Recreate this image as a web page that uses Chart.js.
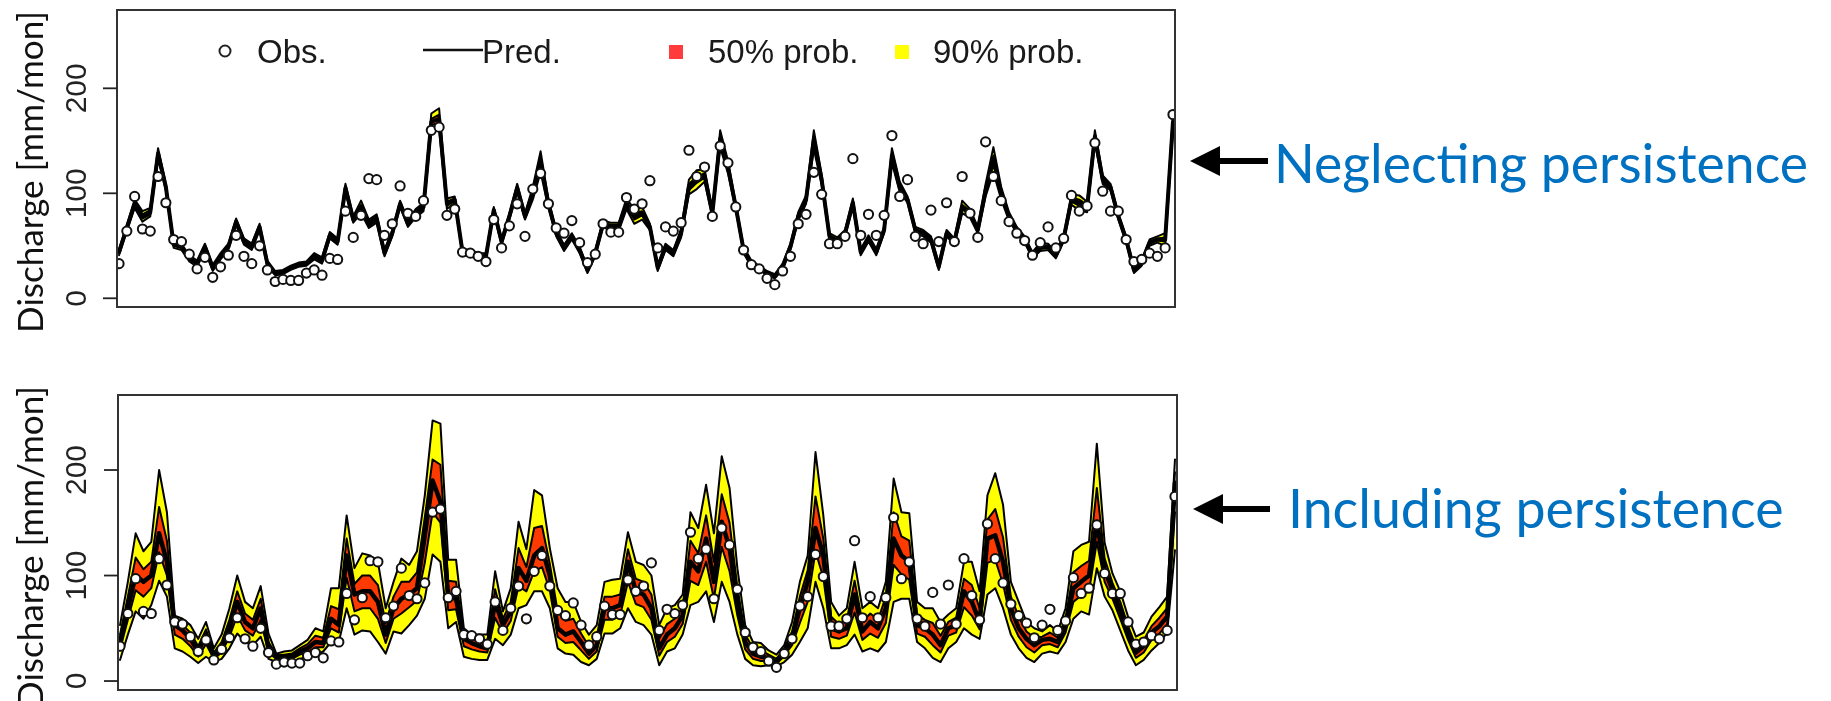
<!DOCTYPE html>
<html><head><meta charset="utf-8">
<script src="https://cdn.jsdelivr.net/npm/chart.js@4.4.1/dist/chart.umd.min.js"></script>
<style>
html,body{margin:0;padding:0;background:#fff;width:1831px;height:701px;overflow:hidden;}
canvas{position:absolute;left:0;}
#c1{top:0}
#c2{top:350px}
</style></head><body>
<canvas id="c1" width="1831" height="350"></canvas>
<canvas id="c2" width="1831" height="351"></canvas>
<script>
// ---------- data ----------
const obs = [33,64,97,66,64,116,91,56,54,42, 28,39,20,30,41,60,40,33,50,27,
  16,18,17,17,24,27,22,38,37,83, 58,79,114,113,60,71,107,81,78,93,
  160,163,79,85,44,43,40,35,75,48, 69,90,59,104,119,90,67,62,74,53,
  34,42,71,63,63,96,85,90,112,48, 68,64,72,141,116,125,78,145,129,87,
  46,32,28,19,13,26,40,71,80,120, 99,52,52,59,133,60,80,60,79,155,
  97,113,59,52,84,54,91,54,116,81, 58,149,116,93,73,62,55,41,53,68,
  48,57,98,83,88,148,102,83,83,56, 35,37,43,40,48,175];

// top panel: neglecting persistence
const topPred = [44,67,90,78,82,138,106,51,49,38, 33,49,29,40,49,73,54,49,68,33,
  24,25,29,32,33,40,36,60,54,105, 75,87,71,76,43,62,90,71,81,87,
  168,171,90,94,44,43,40,40,84,54, 78,105,78,100,130,90,62,48,59,46,
  27,43,71,68,68,90,78,81,68,29, 49,43,62,106,113,117,81,152,125,87,
  46,33,29,24,21,30,49,78,94,151, 113,59,54,62,91,44,57,44,65,136,
  106,94,65,62,56,30,62,54,87,81, 65,103,132,100,78,65,56,41,49,49,
  41,57,94,91,87,154,113,106,78,56, 27,34,53,56,56,168];
const topSpread90 = [3,3,4,5,4,5,3,3,3,3, 3,3,3,3,3,3,3,3,3,3,
  2,2,2,2,2,3,3,3,3,4, 3,6,4,4,3,3,3,3,4,4,
  8,10,5,3,3,3,3,3,3,3, 3,4,3,6,10,4,3,3,3,3,
  3,3,3,4,4,5,7,6,3,3, 3,3,4,7,9,6,3,8,6,3,
  3,3,2,2,2,3,3,4,4,9, 5,3,4,3,4,3,3,3,3,7,
  5,3,3,3,3,3,3,3,6,4, 3,6,12,6,4,3,3,3,4,3,
  3,3,5,7,5,6,4,3,3,3, 3,3,3,3,6,8];
const topSpread50 = [1,1,2,2,2,2,1,1,1,1, 1,1,1,1,1,1,1,1,1,1,
  1,1,1,1,1,1,1,1,1,2, 1,2,2,2,1,1,1,1,2,2,
  3,4,2,1,1,1,1,1,1,1, 1,2,1,2,4,2,1,1,1,1,
  1,1,1,2,2,2,3,2,1,1, 1,1,2,3,3,2,1,3,2,1,
  1,1,1,1,1,1,1,2,2,3, 2,1,2,1,2,1,1,1,1,3,
  2,1,1,1,1,1,1,1,2,2, 1,2,4,2,2,1,1,1,2,1,
  1,1,2,3,2,2,2,1,1,1, 1,1,1,1,2,3];

// bottom panel: including persistence
const botPred = [37,69,100,94,100,140,113,53,48,40, 28,44,23,31,50,75,56,50,69,31,
  23,23,24,28,31,37,36,59,53,119, 82,85,85,75,44,69,78,82,88,138,
  190,170,80,78,40,36,33,31,75,53, 66,107,95,119,126,100,50,44,47,37,
  26,34,69,69,72,113,85,82,69,31, 44,50,62,113,104,135,94,151,126,75,
  37,26,23,22,18,28,40,69,94,145, 119,50,47,50,82,47,56,50,69,135,
  119,113,53,50,44,34,50,53,85,75, 56,135,138,113,69,50,40,34,39,40,
  37,53,88,94,100,151,105,86,67,46, 27,33,46,52,61,188];
const botHi90 = [53,94,140,123,132,200,160,62,59,53, 40,56,31,44,69,100,75,69,90,45,
  26,28,29,34,39,50,47,88,88,157, 107,121,119,113,69,94,116,110,123,176,
  247,244,115,115,50,44,44,44,104,66, 88,151,125,181,176,126,88,75,75,56,
  44,53,94,96,97,141,113,110,100,53, 69,72,82,160,145,186,140,213,183,107,
  53,37,36,29,25,34,56,94,119,217, 157,75,62,69,113,69,75,69,94,192,
  160,159,75,69,69,56,63,69,113,113, 85,176,197,167,94,75,56,50,47,53,
  47,69,123,129,132,225,131,102,85,61, 42,46,61,70,80,210];
const botLo90 = [20,44,66,59,72,95,80,31,28,23, 17,23,18,21,31,45,37,34,42,21,
  18,18,18,21,23,25,28,37,37,69, 44,48,47,37,26,47,45,53,62,78,
  120,113,50,56,23,21,20,20,40,34, 44,69,72,85,85,69,31,26,25,18,
  15,21,45,45,50,69,56,53,44,15, 28,31,44,72,75,85,56,94,75,44,
  21,15,14,15,14,18,25,37,50,94, 69,31,31,34,44,28,31,28,37,75,
  78,78,37,31,22,18,31,37,50,44, 40,82,88,69,44,31,22,18,26,28,
  26,37,59,66,63,107,80,67,48,29, 15,20,29,36,46,124];
const botHi50 = [44,80,117,106,113,165,133,57,53,46, 33,49,27,37,58,85,64,58,78,37,
  25,25,26,31,35,43,41,71,68,135, 92,100,100,91,55,80,94,94,103,155,
  210,205,95,94,45,40,38,37,87,59, 75,126,108,145,147,111,66,57,59,45,
  33,42,80,80,82,125,97,94,82,40, 54,59,70,133,121,157,113,177,150,89,
  44,31,29,25,21,31,47,80,105,175, 135,61,54,58,95,56,64,58,80,160,
  137,133,63,58,55,43,56,60,97,91, 69,153,163,136,80,61,47,41,42,46,
  41,60,103,109,114,183,116,93,75,52, 33,39,52,60,69,198];
const botLo50 = [30,58,86,80,88,122,100,44,40,33, 23,35,21,27,42,62,48,43,58,27,
  21,21,21,25,27,32,32,50,46,98, 66,69,69,59,36,59,64,70,76,112,
  160,150,67,68,33,30,28,27,60,45, 57,90,85,104,108,86,42,36,37,29,
  21,28,58,58,62,94,73,70,58,24, 37,42,54,95,91,113,78,127,104,62,
  30,21,19,19,16,24,34,55,75,123, 98,42,40,43,65,39,45,41,55,110,
  101,96,45,42,34,27,43,46,70,62, 49,112,115,92,58,42,32,27,34,35,
  32,46,75,81,85,132,94,78,59,39, 22,27,39,45,54,160];

const yTicks = [0, 100, 200];
const yTickLabels = ['0', '100', '200'];
const yTitle = 'Discharge [mm/mon]';
const legendLabels = ['Obs.', 'Pred.', '50% prob.', '90% prob.'];
const panelNotes = ['Neglecting persistence', 'Including persistence'];

// ---------- helpers ----------
const months = obs.map((_, i) => i);
const pts = arr => arr.map((v, i) => ({x: months[i], y: v}));
const topHi90 = topPred.map((v, i) => v + topSpread90[i]);
const topLo90 = topPred.map((v, i) => v - topSpread90[i]);
const topHi50 = topPred.map((v, i) => v + topSpread50[i]);
const topLo50 = topPred.map((v, i) => v - topSpread50[i]);

const YELLOW = '#FFFF00', RED = '#FF3A00', LEG_RED = '#FF3B3B', NOTE = '#0070C0';
const SANS = '"Liberation Sans", Arial, sans-serif';
const HUM = 'Lato, "Open Sans", sans-serif';

function fitFont(ctx, text, family, target, base) {
  ctx.font = base + 'px ' + family;
  const w = ctx.measureText(text).width;
  return base * target / w;
}

function drawArrow(ctx, tipX, y, endX) {
  ctx.fillStyle = '#000';
  ctx.fillRect(tipX + 24, y - 3, endX - tipX - 24, 6);
  ctx.beginPath();
  ctx.moveTo(tipX, y);
  ctx.lineTo(tipX + 30, y - 15);
  ctx.lineTo(tipX + 30, y + 15);
  ctx.closePath();
  ctx.fill();
}

function decoPlugin(p) {
  return {
    id: 'deco' + p.idx,
    afterDraw(chart) {
      const ctx = chart.ctx, a = chart.chartArea, ys = chart.scales.y;
      ctx.save();
      // frame
      ctx.strokeStyle = '#333'; ctx.lineWidth = 2;
      ctx.strokeRect(a.left, a.top, a.right - a.left, a.bottom - a.top);
      // y ticks + rotated labels
      ctx.strokeStyle = '#222'; ctx.lineWidth = 1.8;
      ctx.fillStyle = '#222';
      ctx.font = '30px ' + SANS;
      ctx.textAlign = 'center'; ctx.textBaseline = 'alphabetic';
      yTicks.forEach((v, k) => {
        const y = ys.getPixelForValue(v);
        ctx.beginPath(); ctx.moveTo(a.left - 14, y); ctx.lineTo(a.left, y); ctx.stroke();
        ctx.save(); ctx.translate(86, y); ctx.rotate(-Math.PI / 2);
        ctx.fillText(yTickLabels[k], 0, 0); ctx.restore();
      });
      // axis title
      const fs = fitFont(ctx, yTitle, HUM, 322, 36);
      ctx.font = fs.toFixed(1) + 'px ' + HUM;
      ctx.fillStyle = '#111';
      ctx.save(); ctx.translate(43, p.titleY); ctx.rotate(-Math.PI / 2);
      ctx.fillText(yTitle, 0, 0); ctx.restore();
      // legend (top only)
      if (p.legend) {
        ctx.font = '33px ' + SANS; ctx.textAlign = 'left'; ctx.fillStyle = '#1a1a1a';
        ctx.beginPath(); ctx.arc(225, 51, 5.5, 0, Math.PI * 2);
        ctx.lineWidth = 2; ctx.strokeStyle = '#222'; ctx.stroke();
        ctx.fillText(legendLabels[0], 257, 63);
        ctx.beginPath(); ctx.moveTo(423, 50); ctx.lineTo(483, 50);
        ctx.lineWidth = 2.5; ctx.strokeStyle = '#111'; ctx.stroke();
        ctx.fillText(legendLabels[1], 482, 63);
        ctx.fillStyle = LEG_RED; ctx.fillRect(669, 45, 14, 14);
        ctx.fillStyle = '#1a1a1a'; ctx.fillText(legendLabels[2], 708, 63);
        ctx.fillStyle = YELLOW; ctx.fillRect(895, 45, 14, 14);
        ctx.fillStyle = '#1a1a1a'; ctx.fillText(legendLabels[3], 933, 63);
      }
      // arrow + note
      drawArrow(ctx, p.arrowTip, p.arrowY, p.arrowEnd);
      const ns = fitFont(ctx, p.note, HUM, p.noteW, 56);
      ctx.font = ns.toFixed(1) + 'px ' + HUM;
      ctx.fillStyle = NOTE; ctx.textAlign = 'left';
      ctx.fillText(p.note, p.noteX, p.noteY);
      ctx.restore();
    }
  };
}

function makeChart(id, pad, yMin, yMax, pred, hi90, lo90, hi50, lo50, deco, predW, bandW) {
  const base = {pointRadius: 0, pointHoverRadius: 0, tension: 0, borderJoinStyle: 'round', borderCapStyle: 'round'};
  return new Chart(document.getElementById(id), {
    type: 'line',
    data: {datasets: [
      {...base, label: 'q95', data: pts(hi90), borderColor: '#000', borderWidth: bandW, backgroundColor: YELLOW, fill: '+1', order: 5},
      {...base, label: 'q05', data: pts(lo90), borderColor: '#000', borderWidth: bandW, fill: false, order: 4},
      {...base, label: 'q75', data: pts(hi50), borderColor: '#000', borderWidth: bandW, backgroundColor: RED, fill: '+1', order: 3},
      {...base, label: 'q25', data: pts(lo50), borderColor: '#000', borderWidth: bandW, fill: false, order: 2},
      {...base, label: 'Pred.', data: pts(pred), borderColor: '#000', borderWidth: predW, fill: false, order: 1},
      {label: 'Obs.', data: pts(obs), showLine: false, pointRadius: 4.6, pointHoverRadius: 4.6,
       pointBorderWidth: 2, pointBackgroundColor: '#fff', pointBorderColor: '#111', order: 0}
    ]},
    options: {
      responsive: false, animation: false, devicePixelRatio: 1, events: [],
      layout: {padding: pad},
      plugins: {legend: {display: false}, tooltip: {enabled: false}},
      scales: {
        x: {type: 'linear', min: -0.26, max: 135.26, display: false},
        y: {type: 'linear', min: yMin, max: yMax, display: false}
      }
    },
    plugins: [deco]
  });
}

makeChart('c1', {left: 117, right: 656, top: 10, bottom: 43}, -8.3, 274.6,
  topPred, topHi90, topLo90, topHi50, topLo50,
  decoPlugin({idx: 1, titleY: 172, legend: true, arrowTip: 1190, arrowY: 161, arrowEnd: 1268,
              note: panelNotes[0], noteX: 1274, noteY: 183, noteW: 534}), 4, 2);

makeChart('c2', {left: 118, right: 654, top: 45, bottom: 11}, -8.5, 271.1,
  botPred, botHi90, botLo90, botHi50, botLo50,
  decoPlugin({idx: 2, titleY: 197, legend: false, arrowTip: 1193, arrowY: 159, arrowEnd: 1270,
              note: panelNotes[1], noteX: 1288, noteY: 178, noteW: 496}), 4.5, 2);
</script>
</body></html>
